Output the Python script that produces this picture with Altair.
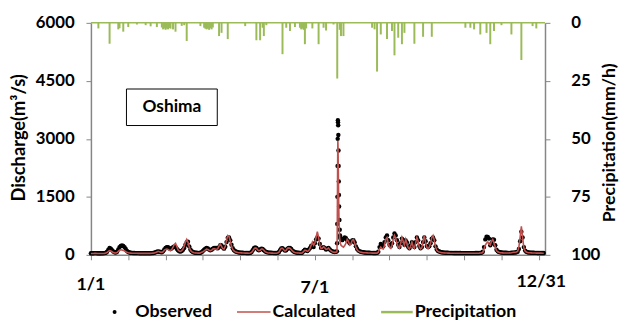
import altair as alt
import pandas as pd
import numpy as np

# ---------------- data ----------------
# daily observed discharge (m3/s), day 0 = 1/1; days 198-200 are given at sub-daily resolution below
obs_daily = [
    40, 40, 42, 45, 45, 42, 40, 40, 40, 42,
    42, 45, 55, 80, 130, 175, 160, 120, 85, 65,
    60, 80, 140, 200, 230, 240, 230, 200, 150, 100,
    75, 62, 55, 50, 48, 46, 45, 44, 44, 43,
    43, 42, 42, 42, 42, 41, 41, 41, 42, 44,
    48, 55, 65, 78, 85, 80, 72, 68, 90, 140,
    180, 200, 195, 170, 150, 170, 200, 220, 200, 160,
    120, 95, 85, 100, 130, 180, 260, 330, 340, 220,
    140, 95, 75, 62, 56, 52, 50, 50, 55, 70,
    100, 130, 160, 175, 165, 140, 120, 130, 160, 180,
    180, 175, 170, 200, 250, 240, 190, 160, 210, 330,
    440, 450, 380, 260, 170, 120, 95, 80, 70, 62,
    58, 55, 52, 50, 50, 48, 48, 47, 50, 70,
    120, 170, 190, 180, 140, 120, 140, 160, 150, 120,
    90, 72, 64, 58, 54, 52, 50, 49, 48, 48,
    50, 70, 120, 165, 170, 140, 110, 120, 160, 180,
    175, 150, 110, 85, 70, 62, 56, 52, 50, 50,
    60, 100, 130, 120, 100, 130, 170, 230, 250, 200,
    300, 400, 450, 420, 280, 180, 180, 200, 170, 140,
    160, 180, 140, 110, 90, 80, 75, 80, None, None,
    None, 400, 380, 420, 450, 430, 380, 350, 300, 330,
    370, 380, 320, 220, 150, 110, 90, 78, 70, 65,
    60, 57, 55, 53, 52, 50, 50, 48, 48, 48,
    50, 80, 200, 280, 240, 220, 330, 450, 500, 380,
    260, 220, 300, 450, 550, 500, 380, 260, 200, 300,
    420, 380, 260, 370, 320, 210, 170, 240, 330, 260,
    200, 330, 450, 380, 230, 170, 200, 330, 450, 350,
    230, 200, 220, 300, 420, 450, 380, 220, 140, 100,
    85, 75, 68, 62, 58, 55, 53, 52, 51, 50,
    50, 49, 48, 48, 47, 47, 46, 46, 45, 45,
    45, 45, 44, 44, 44, 44, 44, 45, 45, 46,
    46, 47, 48, 50, 55, 80, 200, 400, 470, 460,
    420, 250, 300, 400, 390, 250, 130, 90, 75, 65,
    60, 57, 55, 53, 52, 51, 50, 50, 52, 55,
    58, 60, 65, 80, 150, 350, 600, 450, 200, 110,
    80, 68, 62, 58, 55, 53, 52, 50, 50, 48,
    48, 47, 47, 46, 46,
]

calc_daily = [
    35, 35, 36, 38, 38, 36, 35, 35, 35, 36,
    36, 38, 45, 60, 90, 110, 100, 80, 60, 50,
    48, 60, 90, 120, 130, 125, 115, 100, 80, 65,
    55, 48, 45, 42, 40, 40, 39, 39, 38, 38,
    38, 38, 37, 37, 37, 37, 37, 37, 38, 40,
    45, 50, 60, 75, 90, 80, 70, 65, 80, 120,
    140, 150, 140, 120, 110, 140, 200, 270, 300, 220,
    130, 100, 90, 110, 150, 220, 330, 400, 330, 200,
    120, 85, 65, 55, 50, 47, 45, 45, 50, 70,
    80, 100, 130, 150, 140, 120, 110, 120, 150, 160,
    150, 140, 160, 230, 280, 220, 160, 150, 220, 380,
    500, 480, 350, 220, 140, 100, 80, 70, 62, 56,
    52, 50, 48, 46, 45, 44, 44, 43, 46, 60,
    100, 150, 180, 170, 130, 110, 120, 150, 150, 120,
    85, 65, 55, 50, 47, 45, 44, 43, 42, 42,
    45, 65, 120, 170, 170, 130, 100, 120, 170, 180,
    170, 140, 100, 75, 62, 55, 50, 47, 45, 45,
    55, 90, 120, 110, 90, 110, 160, 250, 330, 250,
    300, 450, 600, 450, 250, 160, 170, 210, 180, 140,
    150, 180, 130, 100, 80, 70, 65, 70, None, None,
    None, 250, 220, 200, 240, 300, 400, 350, 250, 280,
    380, 400, 300, 200, 130, 95, 80, 70, 62, 58,
    55, 52, 50, 48, 47, 46, 45, 44, 44, 44,
    45, 70, 150, 200, 160, 150, 250, 400, 450, 300,
    200, 170, 250, 400, 500, 420, 300, 200, 170, 300,
    450, 350, 250, 400, 300, 180, 150, 220, 330, 220,
    170, 300, 450, 350, 200, 150, 180, 350, 500, 330,
    200, 160, 200, 300, 450, 500, 380, 200, 120, 90,
    75, 65, 58, 54, 50, 48, 46, 45, 44, 43,
    42, 42, 42, 41, 41, 41, 41, 41, 40, 40,
    40, 40, 40, 40, 40, 40, 40, 41, 41, 41,
    42, 43, 44, 46, 50, 65, 150, 250, 300, 330,
    280, 250, 350, 400, 320, 200, 110, 80, 65, 55,
    52, 50, 48, 47, 46, 46, 47, 50, 55, 62,
    65, 68, 72, 90, 200, 450, 740, 450, 180, 100,
    75, 62, 56, 52, 50, 48, 47, 46, 45, 45,
    44, 44, 44, 43, 43,
]

# July flood event at sub-daily resolution
peak_day = [197.75, 197.875, 198.0, 198.125, 198.25, 198.375, 198.5, 198.625, 198.75, 198.875,
            199.0, 199.125, 199.25, 199.375, 199.5, 199.75, 200.0, 200.25, 200.5, 200.75]
peak_obs = [90, 300, 800, 1500, 2300, 3000, 3480, 3430, 3350, 3100,
            2700, 2300, 1900, 1550, 1250, 900, 650, 500, 450, 420]
peak_calc = [80, 250, 700, 1300, 2000, 2600, 2950, 2800, 2500, 2150,
             1800, 1500, 1200, 950, 750, 550, 420, 350, 300, 270]

# precipitation (mm/h)
prec_day = [6, 15, 22, 23, 26, 30, 37, 44, 48, 53, 57, 58, 59, 60, 61, 62, 63, 64, 66, 68,
            73, 75, 77, 88, 91, 92, 93, 94, 95, 96, 97, 98, 103, 105, 110, 124, 133, 136, 138, 139,
            141, 154, 157, 160, 164, 168, 169, 170, 171, 172, 173, 178, 183, 187, 189, 195, 198, 200,
            201, 203, 226, 228, 230, 233, 238, 242, 244, 247, 250, 252, 260, 267, 274, 301, 305, 308,
            313, 318, 321, 324, 330, 338, 346, 355, 358]
prec_mm = [2.4, 9, 2.8, 2.3, 3.8, 1.8, 0.7, 1.0, 1.5, 1.8, 2.0, 2.8, 2.4, 3.0, 2.5, 2.8, 2.2, 2.5, 2.8, 3.8,
           1.3, 1.0, 7.8, 1.4, 2.1, 2.5, 2.8, 2.5, 3.0, 2.3, 2.8, 2.0, 5.7, 4.3, 7.0, 1.4, 7.5, 7.5, 2.1, 5.7,
           1.0, 13.5, 2.1, 3.5, 1.8, 2.1, 2.8, 2.5, 3.0, 9.2, 2.4, 2.4, 9.2, 2.1, 3.3, 0.7, 24, 3.0,
           5.7, 5.7, 2.1, 2.8, 21, 5.0, 7.0, 3.5, 14, 6.4, 9.2, 4.3, 9.0, 6.0, 6.0, 2.1, 2.1, 2.8,
           5.0, 4.3, 9.2, 3.5, 1.0, 5.0, 16, 1.4, 2.4]

x_tick_days = list(range(0, 361, 30))
x_label_days = [0, 180, 362]
x_label_text = ["1/1", "7/1", "12/31"]
q_ticks = [0, 1500, 3000, 4500, 6000]
p_ticks = [0, 25, 50, 75, 100]

# ---------------- tables ----------------
daily = pd.DataFrame({"day": np.arange(len(obs_daily)), "obs": obs_daily, "calc": calc_daily}).dropna()
peak = pd.DataFrame({"day": peak_day, "obs": peak_obs, "calc": peak_calc})
q = pd.concat([daily, peak]).sort_values("day").reset_index(drop=True)
p = pd.DataFrame({"day": prec_day, "mm": prec_mm, "top": 0})

FONT = "Lato"
GRAY = "#868686"
RED = "#C0504D"
GREEN = "#9BBB59"

xscale = alt.Scale(domain=[0, 365], nice=False, zero=False)
xaxis = alt.Axis(values=x_tick_days, labels=False, tickSize=5, title=None, grid=False,
                 domainColor=GRAY, tickColor=GRAY)
X = alt.X("day:Q", scale=xscale, axis=xaxis)

qscale = alt.Scale(domain=[0, 6000], nice=False)
qaxis = alt.Axis(orient="left", values=q_ticks, format="d", tickSize=5, labelPadding=12,
                 title=None, grid=False)
pscale = alt.Scale(domain=[0, 100], reverse=True, nice=False)
paxis = alt.Axis(orient="right", values=p_ticks, format="d", tickSize=5, labelPadding=21,
                 title=None, grid=False)

precip = alt.Chart(p).mark_rule(color=GREEN, strokeWidth=2).encode(
    x=X, y=alt.Y("top:Q", scale=pscale, axis=paxis), y2="mm:Q")

top_line = alt.Chart(pd.DataFrame({"a": [0]})).mark_rule(color=GREEN, strokeWidth=1.5).encode(
    x=alt.value(0), x2=alt.value(460), y=alt.value(0))

points = alt.Chart(q).mark_circle(color="black", size=20, opacity=1).encode(
    x=X, y=alt.Y("obs:Q", scale=qscale, axis=qaxis))
line = alt.Chart(q).mark_line(color=RED, strokeWidth=1.6).encode(
    x=X, y=alt.Y("calc:Q", scale=qscale, axis=qaxis))
discharge = alt.layer(points, line)

def txt(s, x, y, size=18, angle=0, align="center"):
    return alt.Chart(pd.DataFrame({"t": [s]})).mark_text(
        font=FONT, fontWeight="bold", fontSize=size, color="black", angle=angle,
        align=align, baseline="middle").encode(x=alt.value(x), y=alt.value(y), text="t:N")

one = pd.DataFrame({"a": [0]})
box = alt.Chart(one).mark_rect(fill="white", stroke="black", strokeWidth=1).encode(
    x=alt.value(36), x2=alt.value(128), y=alt.value(67), y2=alt.value(104))

xl_y = [266, 269, 263]
xlabels = [alt.Chart(pd.DataFrame({"day": [d], "t": [s]})).mark_text(
    font=FONT, fontWeight="bold", fontSize=18, color="black", baseline="middle").encode(
    x=X, y=alt.value(yy), text="t:N") for d, s, yy in zip(x_label_days, x_label_text, xl_y)]

LY = 293
leg_dot = alt.Chart(one).mark_circle(color="black", size=16, opacity=1).encode(
    x=alt.value(24), y=alt.value(LY))
leg_red = alt.Chart(one).mark_rule(color=RED, strokeWidth=1.5).encode(
    x=alt.value(148), x2=alt.value(182), y=alt.value(LY))
leg_green = alt.Chart(one).mark_rule(color=GREEN, strokeWidth=2.5).encode(
    x=alt.value(294), x2=alt.value(326), y=alt.value(LY))

chart = alt.layer(
    precip, top_line, discharge, box,
    txt("Oshima", 82, 85, size=17.5),
    txt("Discharge(m³/s)", -73, 116.5, size=18.5, angle=270),
    txt("Precipitation(mm/h)", 526, 121.5, size=18, angle=270),
    *xlabels,
    leg_dot, leg_red, leg_green,
    txt("Observed", 45, LY, align="left"),
    txt("Calculated", 184, LY, align="left"),
    txt("Precipitation", 328, LY, align="left"),
).resolve_scale(y="independent").properties(
    width=460, height=235,
    autosize=alt.AutoSizeParams(type="none"),
    padding={"left": 84, "top": 13, "right": 78, "bottom": 68},
).configure_view(stroke=None).configure_axis(
    labelFont=FONT, labelFontWeight="bold", labelFontSize=17, labelColor="black",
    domainColor=GRAY, tickColor=GRAY, domainWidth=1.5,
)

chart.save("out.html", embed_options={"renderer": "svg", "actions": False})
